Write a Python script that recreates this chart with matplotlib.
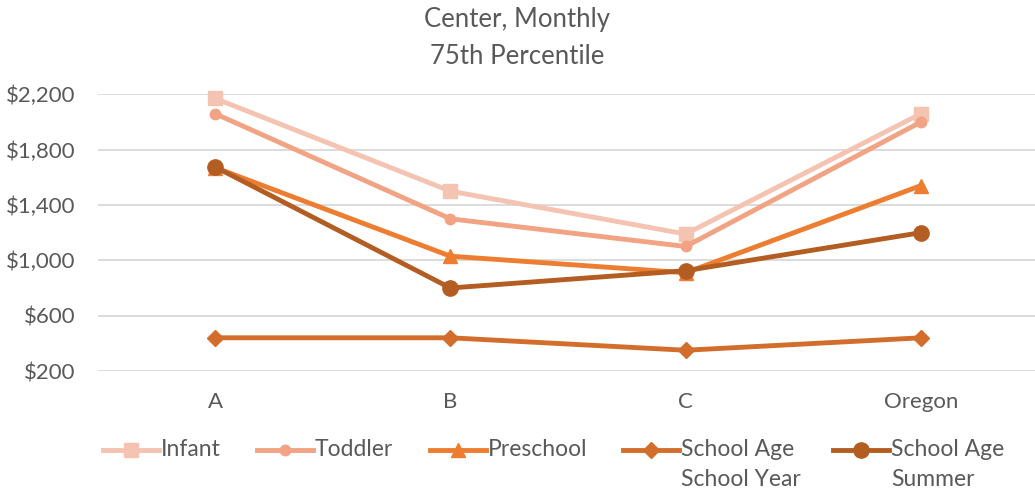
import matplotlib
matplotlib.use('Agg')
import matplotlib.pyplot as plt
from matplotlib.lines import Line2D
from matplotlib.ticker import FuncFormatter

categories = ["A", "B", "C", "Oregon"]
series_names = ["Infant", "Toddler", "Preschool", "School Age\nSchool Year", "School Age\nSummer"]
infant = [2170, 1500, 1190, 2060]
toddler = [2060, 1300, 1100, 2000]
preschool = [1670, 1030, 910, 1540]
school_year = [440, 440, 350, 440]
summer = [1675, 800, 925, 1200]

colors = ["#F4C3B1", "#F1A383", "#ED7D31", "#D26D2B", "#B35D22"]
markers = ["s", "o", "^", "D", "o"]
msizes = [10, 7.5, 10, 8, 11]

plt.rcParams['font.family'] = ['Lato', 'DejaVu Sans']
text_color = "#595959"

fig = plt.figure(figsize=(10.35, 4.95), dpi=100)
ax = fig.add_axes([97.5 / 1035, 0.2505, (1038.6 - 97.5) / 1035, 0.8095 - 0.2505])

x = range(len(categories))
all_series = [infant, toddler, preschool, school_year, summer]
for vals, c, m, ms in zip(all_series, colors, markers, msizes):
    ax.plot(x, vals, color=c, marker=m, markersize=ms, linewidth=3.5,
            solid_capstyle='round', clip_on=False)

ax.set_xlim(-0.5, 3.5)
ax.set_ylim(200, 2200)
ax.set_yticks([200, 600, 1000, 1400, 1800, 2200])
ax.yaxis.set_major_formatter(FuncFormatter(lambda v, p: f"${v:,.0f}"))
ax.set_xticks(list(x))
ax.set_xticklabels(categories)
ax.grid(axis='y', color="#D9D9D9", linewidth=1.3)
ax.set_axisbelow(True)
for s in ax.spines.values():
    s.set_visible(False)
ax.tick_params(length=0, labelsize=16, colors=text_color)
ax.tick_params(axis='x', pad=15)
ax.tick_params(axis='y', pad=16)

fig.text(517 / 1035, 1 - 20 / 495, "Center, Monthly", ha='center', va='center',
         fontsize=18.5, color=text_color)
fig.text(517 / 1035, 1 - 57 / 495, "75th Percentile", ha='center', va='center',
         fontsize=18.5, color=text_color)

# legend, drawn by hand so the handle sits on the first text line
leg_x = [103, 257, 430, 623, 833]
leg_y = 1 - 450 / 495
for lx, name, c, m, ms in zip(leg_x, series_names, colors, markers, msizes):
    x0 = lx / 1035
    x1 = (lx + 56) / 1035
    fig.add_artist(Line2D([x0, x1], [leg_y, leg_y], color=c, linewidth=3.5,
                          transform=fig.transFigure))
    fig.add_artist(Line2D([(x0 + x1) / 2], [leg_y], color=c, marker=m, markersize=ms,
                          linestyle='none', transform=fig.transFigure))
    for i, line in enumerate(name.split("\n")):
        fig.text(x1 + 2 / 1035, leg_y - i * 30 / 495, line, ha='left', va='center',
                 fontsize=16.5, color=text_color)

fig.savefig("out.png", dpi=100)
